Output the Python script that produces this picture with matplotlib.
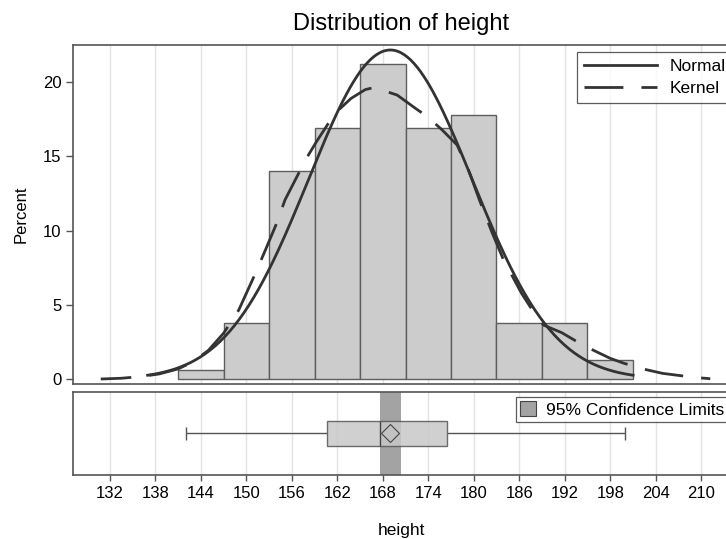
import numpy as np
import matplotlib.pyplot as plt
from matplotlib.lines import Line2D
from matplotlib.patches import Patch

plt.rcParams['font.family'] = ['Liberation Sans', 'DejaVu Sans']

# histogram of height (percent per 6 cm bin)
bin_mid = [144, 150, 156, 162, 168, 174, 180, 186, 192, 198]
pct = [0.64, 3.80, 14.04, 16.89, 21.22, 16.89, 17.79, 3.80, 3.80, 1.27]
bin_w = 6

# fitted normal
mu = 169.0
sigma = 10.8
norm_lo, norm_hi = 136.8, 201.2

# kernel density (percent scale)
kern_x = [130.8, 133.5, 136.0, 138.5, 141.0, 143.0, 145.0, 147.0, 149.0, 151.2,
          152.6, 154.0, 155.1, 156.9, 157.8, 159.2, 160.6, 161.7, 163.8, 165.7,
          166.7, 167.7, 169.9, 172.3, 173.9, 175.8, 177.8, 179.3, 180.8, 182.4,
          183.9, 186.3, 187.8, 189.2, 191.6, 193.4, 195.8, 198.0, 199.8, 202.3,
          204.9, 206.9, 209.0, 211.2]
kern_y = [0.02, 0.07, 0.18, 0.36, 0.70, 1.19, 1.95, 3.10, 4.66, 7.13,
          8.80, 10.50, 12.07, 13.86, 14.76, 15.95, 17.05, 17.90, 18.90, 19.50,
          19.62, 19.50, 19.13, 18.24, 17.67, 16.80, 15.77, 14.10, 12.00, 9.90,
          8.07, 5.79, 4.60, 3.65, 3.14, 2.60, 1.95, 1.41, 1.08, 0.70,
          0.40, 0.27, 0.13, 0.04]

# box plot summary
whisk_lo, q1, med, q3, whisk_hi = 142.0, 160.7, 167.6, 176.5, 199.9
mean_h = 169.0
ci_lo, ci_hi = 167.6, 170.4

xticks = list(range(132, 211, 6))
yticks = [0, 5, 10, 15, 20]

W, H = 726, 539
fig = plt.figure(figsize=(W / 100, H / 100), dpi=100)
left, right = 72.7, 730
ax = fig.add_axes([left / W, 1 - 384 / H, (right - left) / W, (384 - 44.7) / H])
bx = fig.add_axes([left / W, 1 - 475 / H, (right - left) / W, (475 - 391.7) / H])

frame = '#555555'
grid = '#e3e3e3'
curve = '#333333'
fs = 12
kdash = (3, (14, 6.5))

# --- histogram panel ---
ax.bar(bin_mid, pct, width=bin_w, color='#cccccc', edgecolor='#5e5e5e', lw=1, zorder=2)
xn = np.linspace(norm_lo, norm_hi, 300)
yn = 100 * bin_w * np.exp(-0.5 * ((xn - mu) / sigma) ** 2) / (sigma * np.sqrt(2 * np.pi))
ax.plot(xn, yn, color=curve, lw=2.0, zorder=3, solid_capstyle='butt')
ax.plot(kern_x, kern_y, color=curve, lw=2.0, ls=kdash, zorder=3,
        dash_capstyle='butt')

ax.set_xlim(127.1, 213.8)
ax.set_ylim(-0.316, 22.52)
ax.set_xticks(xticks)
ax.set_yticks(yticks)
ax.tick_params(axis='x', length=0, labelbottom=False)
ax.tick_params(axis='y', length=5, width=1, color=frame, labelsize=fs, pad=3)
ax.grid(axis='x', color=grid, lw=1)
ax.set_axisbelow(True)
ax.set_ylabel('Percent', fontsize=fs, labelpad=10)
for s in ax.spines.values():
    s.set_color(frame)
    s.set_linewidth(1.2)

hnd = [Line2D([], [], color=curve, lw=2.0),
       Line2D([], [], color=curve, lw=2.0, ls=(0, (14, 6.5)))]
leg = ax.legend(hnd, ['Normal', 'Kernel'], loc='upper right',
                bbox_to_anchor=(733 / W, 1 - 51.7 / H), bbox_transform=fig.transFigure,
                fancybox=False, edgecolor='#333333', fontsize=12.5, handlelength=4.2,
                handletextpad=0.75, borderpad=0.4, labelspacing=0.4, borderaxespad=0)
leg.get_frame().set_linewidth(0.9)

# --- box plot panel ---
bx.axvspan(ci_lo, ci_hi, color='#a3a3a3', zorder=1, lw=0)
bx.hlines(0.5, whisk_lo, q1, color='#555555', lw=1, zorder=2)
bx.hlines(0.5, q3, whisk_hi, color='#555555', lw=1, zorder=2)
bx.vlines([whisk_lo, whisk_hi], 0.42, 0.58, color='#555555', lw=1, zorder=2)
bx.bar((q1 + q3) / 2, 0.30, width=q3 - q1, bottom=0.35, color='#c8c8c8', alpha=0.85,
       edgecolor='#555555', lw=1, zorder=3)
bx.vlines(med, 0.35, 0.65, color='#444444', lw=1, zorder=4)
bx.plot([mean_h], [0.5], marker='D', ms=9, mfc='none', mec='#444444', mew=0.8, zorder=5)

bx.set_ylim(0, 1)
bx.set_yticks([])
bx.set_xticks(xticks)
bx.tick_params(axis='x', length=4, width=1, color=frame, labelsize=fs, pad=4)
bx.grid(axis='x', color=grid, lw=1)
bx.set_axisbelow(True)
bx.set_xlabel('height', fontsize=12.5, labelpad=16)
for s in bx.spines.values():
    s.set_color(frame)
    s.set_linewidth(1.2)
bx.set_xlim(ax.get_xlim())

bleg = bx.legend([Patch(facecolor='#a3a3a3', edgecolor='#444444', lw=0.8)],
                 ['95% Confidence Limits'], loc='upper right',
                 bbox_to_anchor=(729 / W, 1 - 397 / H), bbox_transform=fig.transFigure,
                 fancybox=False, edgecolor='#333333', fontsize=12.5, handlelength=0.9,
                 handleheight=0.9, handletextpad=0.6, borderpad=0.25, borderaxespad=0)
bleg.get_frame().set_linewidth(0.9)

fig.text((left + right) / 2 / W, 1 - 24 / H, 'Distribution of height',
         ha='center', va='center', fontsize=17)

fig.savefig('out.png', dpi=100)
